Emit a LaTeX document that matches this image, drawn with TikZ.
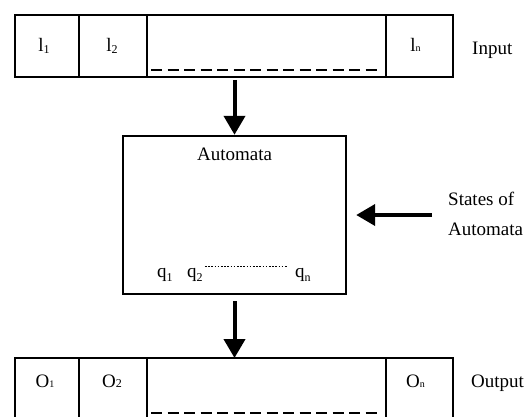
\documentclass[tikz,border=0pt]{standalone}
\usepackage{fontspec}
\setmainfont{Liberation Serif}
\usetikzlibrary{arrows.meta, positioning, calc}

\newcommand{\sbs}[2][2pt]{\raisebox{-#1}{\fontsize{12}{12}\selectfont #2}}

\begin{document}
\begin{tikzpicture}[
    x=1pt, y=-1pt,
    cell/.style={
        rectangle,
        draw,
        line width=1.6pt,
        minimum height=62pt,
        inner sep=0pt,
        outer sep=0pt,
    },
    machine/.style={
        rectangle,
        draw,
        line width=2.4pt,
        minimum width=223pt,
        minimum height=158pt,
        inner sep=0pt,
    },
    lbl/.style={inner sep=0pt, font=\fontsize{19}{22}\selectfont},
    gapline/.style={line width=1.8pt, dash pattern=on 11pt off 5.5pt},
    dots/.style={line width=0.9pt, dash pattern=on 1.6pt off 1.6pt},
    arr/.style={-{Triangle[length=19pt, width=21pt]}, line width=4pt},
]
\useasboundingbox (0,0) rectangle (524,417);
\clip (0,0) rectangle (524,417);

% input tape
\node[cell, minimum width=64pt, anchor=north west] (i1) at (15,15) {};
\node[cell, minimum width=68pt, right=0pt of i1] (i2) {};
\node[cell, minimum width=239pt, right=0pt of i2] (i3) {};
\node[cell, minimum width=67pt, right=0pt of i3] (i4) {};
\draw[line width=2.8pt] (i4.north east) -- (i4.south east);
\draw[gapline] ($(i3.south west)+(4,-7)$) -- ($(i3.south east)+(-4,-7)$);

\node[lbl, anchor=base] (l1) at ($(i1.north)+(-3,37)$) {l\sbs{1}};
\node[lbl, anchor=base] (l2) at ($(i2.north)+(-1,37)$) {l\sbs{2}};
\node[lbl, anchor=base] (ln) at ($(i4.north)+(-4,37)$) {l\sbs[0pt]{\fontsize{10}{10}\selectfont n}};
\node[lbl, anchor=base west] (inlbl) at (472,55) {Input};

% automata
\node[machine] (auto) at (234.5,215) {};
\node[lbl, anchor=base] (autolbl) at ($(auto.north)+(0,26)$) {Automata};
\node[lbl, anchor=base west] (q1) at (157,277) {q\sbs[4pt]{1}};
\node[lbl, anchor=base west] (q2) at (187,277) {q\sbs[4pt]{2}};
\node[lbl, anchor=base west] (qn) at (295,277) {q\sbs[4pt]{n}};
\draw[dots] ([shift={(2,-11)}]q2.base east) -- ([shift={(-7,-11)}]qn.base west);

\node[lbl, align=left, anchor=west] (states) at (448,214) {States of\\[8pt]Automata};

% output tape
\node[cell, minimum width=64pt, anchor=north west] (o1) at (15,358) {};
\node[cell, minimum width=68pt, right=0pt of o1] (o2) {};
\node[cell, minimum width=239pt, right=0pt of o2] (o3) {};
\node[cell, minimum width=67pt, right=0pt of o3] (o4) {};
\draw[line width=2.8pt] (o4.north east) -- (o4.south east);
\draw[gapline] ($(o3.south west)+(4,-7)$) -- ($(o3.south east)+(-4,-7)$);

\node[lbl, anchor=base] (out1) at ($(o1.north)+(-2,29)$) {O\sbs[0pt]{\fontsize{10}{10}\selectfont 1}};
\node[lbl, anchor=base] (out2) at ($(o2.north)+(-1,29)$) {O\sbs[0pt]{2}};
\node[lbl, anchor=base] (outn) at ($(o4.north)+(-4,29)$) {O\sbs[0pt]{\fontsize{10}{10}\selectfont n}};
\node[lbl, anchor=base west] (outlbl) at (471,387) {Output};

% arrows
\draw[arr] ([yshift=-3pt]i3.south -| auto.north) -- (auto.north);
\draw[arr] ([yshift=-6pt]auto.south) -- (auto.south |- o3.north);
\draw[arr] ([xshift=-16pt]states.west |- auto.east) -- ([xshift=9pt]auto.east);

\end{tikzpicture}
\end{document}
